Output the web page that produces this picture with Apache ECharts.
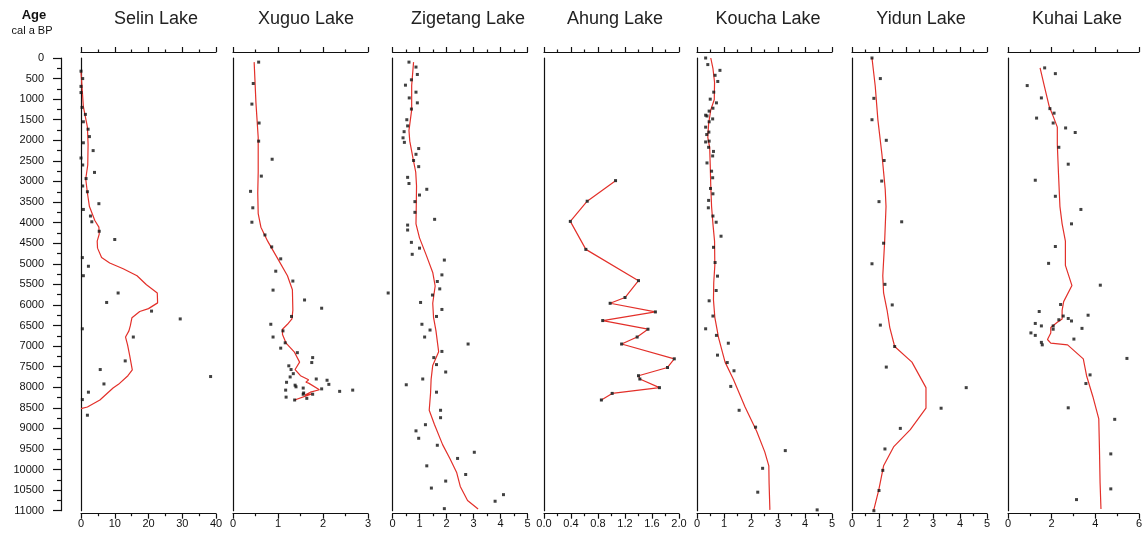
<!DOCTYPE html>
<html>
<head>
<meta charset="utf-8">
<title>Lake records</title>
<script src="https://cdn.jsdelivr.net/npm/echarts@6/dist/echarts.min.js"></script>
<style>
  html, body { margin: 0; padding: 0; background: #fff; }
  #chart { width: 1145px; height: 540px; }
</style>
</head>
<body>
<div id="chart"></div>
<script>
// every pair is [value, age in cal a BP]
const selinPts = [[0,320],[0.5,500],[0,690],[0,840],[0.3,1200],[1.3,1370],[0.7,1550],[2.1,1730],[2.5,1910],[0.7,2060],[3.6,2250],[0,2430],[0.5,2600],[4.0,2780],[1.5,2930],[0.5,3110],[1.9,3250],[5.3,3540],[0.7,3680],[2.8,3840],[3.2,3980],[5.4,4210],[10.0,4410],[0.4,4850],[2.2,5060],[0.7,5290],[11.0,5710],[7.6,5940],[20.9,6150],[29.4,6340],[0.4,6580],[15.5,6780],[13.1,7360],[5.7,7570],[38.4,7740],[6.8,7920],[2.2,8120],[0.4,8300],[1.9,8680]]
const selinFit = [[0,340],[0.7,1180],[1.9,1680],[2.1,2100],[2.0,2600],[1.7,2770],[1.4,2940],[1.9,3280],[2.5,3610],[4.1,3950],[5.3,4110],[5.4,4280],[4.8,4450],[4.9,4620],[6.1,4850],[8.5,4980],[12.5,5120],[16.6,5290],[19.4,5510],[22.6,5710],[22.7,5950],[20.0,6090],[17.4,6160],[15.1,6310],[14.6,6510],[14.2,6630],[13.2,6780],[13.8,6970],[14.4,7220],[15.2,7580],[13.9,7720],[11.1,7930],[9.5,8020],[5.6,8310],[1.9,8480],[0,8520]]

const xuguoPts = [[0.57,100],[0.45,620],[0.42,1120],[0.58,1580],[0.57,2020],[0.87,2460],[0.63,2870],[0.39,3240],[0.44,3640],[0.42,3990],[0.71,4300],[0.86,4590],[1.06,4880],[0.95,5180],[1.33,5420],[0.89,5640],[1.59,5880],[1.97,6080],[1.30,6280],[0.84,6470],[1.11,6630],[0.89,6780],[1.16,6920],[1.06,7050],[1.43,7160],[1.77,7280],[1.75,7400],[1.24,7480],[1.29,7570],[1.34,7670],[1.27,7750],[1.85,7800],[2.09,7830],[2.13,7930],[1.19,7880],[1.38,7950],[1.40,7990],[1.56,8020],[1.17,8070],[1.97,8040],[2.37,8100],[2.66,8070],[1.57,8140],[1.56,8170],[1.77,8170],[1.64,8270],[1.18,8240],[1.37,8310]]
const xuguoFit = [[0.47,100],[0.51,1090],[0.56,1930],[0.56,2770],[0.55,3280],[0.56,3780],[0.62,4110],[0.77,4450],[0.99,4870],[1.21,5290],[1.32,5630],[1.33,6130],[1.31,6340],[1.21,6470],[1.10,6590],[1.10,6720],[1.18,6930],[1.36,7140],[1.48,7390],[1.38,7570],[1.50,7720],[1.68,7820],[1.62,7880],[1.68,7900],[1.92,8060],[1.72,8120],[1.60,8190],[1.75,8160],[1.37,8310]]

const zigetangPts = [[0.61,100],[0.87,220],[0.92,400],[0.70,530],[0.48,660],[0.87,830],[0.62,970],[0.92,1090],[0.70,1240],[0.53,1500],[0.56,1650],[0.43,1790],[0.39,1940],[0.44,2050],[0.97,2200],[0.87,2340],[0.78,2490],[0.97,2640],[0.56,2900],[0.61,3050],[1.27,3190],[1.00,3330],[0.83,3490],[0.83,3750],[1.56,3920],[0.56,4060],[0.56,4180],[0.70,4480],[1.00,4620],[0.73,4770],[1.92,4910],[1.83,5270],[1.66,5430],[1.75,5610],[-0.16,5710],[1.48,5760],[1.04,5940],[1.83,6110],[1.63,6280],[1.09,6470],[1.39,6610],[1.19,6780],[2.80,6950],[1.83,7130],[1.53,7280],[1.63,7450],[1.97,7630],[1.12,7800],[0.51,7940],[1.63,8120],[1.78,8560],[1.78,8740],[1.22,8910],[0.87,9060],[0.97,9240],[1.66,9410],[3.03,9580],[2.41,9730],[1.27,9910],[2.71,10120],[1.97,10280],[1.44,10450],[4.11,10610],[3.80,10770],[1.92,10950]]
const zigetangFit = [[0.78,100],[0.71,670],[0.71,1260],[0.61,1760],[0.64,2020],[0.76,2440],[0.86,2770],[0.89,3110],[0.88,3610],[0.87,4030],[1.00,4370],[1.25,4790],[1.49,5210],[1.58,5540],[1.49,5960],[1.52,6300],[1.61,6630],[1.71,7140],[1.49,7470],[1.43,7810],[1.41,8140],[1.36,8560],[1.55,8900],[1.86,9400],[2.13,9740],[2.38,10080],[2.51,10410],[2.78,10750],[3.17,10960]]

const ahungPts = [[1.06,2980],[0.64,3480],[0.39,3970],[0.62,4650],[1.40,5410],[1.20,5820],[0.98,5960],[1.65,6170],[0.87,6380],[1.54,6590],[1.38,6780],[1.15,6950],[1.93,7310],[1.83,7520],[1.40,7720],[1.42,7800],[1.71,8010],[1.01,8150],[0.85,8310]]

const kouchaPts = [[0.32,0],[0.40,160],[0.85,300],[0.67,420],[0.77,570],[0.62,830],[0.49,1000],[0.72,1090],[0.59,1220],[0.45,1290],[0.32,1390],[0.37,1410],[0.58,1480],[0.45,1550],[0.32,1680],[0.44,1800],[0.36,1860],[0.32,2040],[0.45,2020],[0.43,2170],[0.61,2270],[0.58,2380],[0.37,2550],[0.54,2750],[0.58,2910],[0.50,3170],[0.59,3300],[0.43,3460],[0.42,3640],[0.59,3840],[0.71,3990],[0.89,4330],[0.61,4600],[0.67,4970],[0.76,5300],[0.71,5650],[0.45,5900],[0.59,6270],[0.32,6580],[0.72,6740],[1.16,6930],[0.76,7220],[1.12,7400],[1.37,7600],[1.25,7980],[1.56,8560],[2.17,8970],[3.27,9540],[2.43,9970],[2.25,10550],[4.45,10980]]
const kouchaFit = [[0.51,0],[0.59,250],[0.65,590],[0.64,1010],[0.51,1260],[0.43,1600],[0.40,1930],[0.47,2180],[0.49,2600],[0.51,3110],[0.54,3610],[0.59,4030],[0.65,4450],[0.66,5040],[0.62,5460],[0.61,5880],[0.66,6300],[0.80,6800],[1.04,7390],[1.35,7810],[1.78,8480],[2.21,9070],[2.51,9570],[2.66,9910],[2.67,10330],[2.70,10980]]

const yidunPts = [[0.74,0],[1.05,500],[0.81,980],[0.74,1500],[1.27,2000],[1.19,2490],[1.10,2990],[1.00,3490],[1.84,3980],[1.17,4500],[0.74,5000],[1.22,5500],[1.49,6000],[1.05,6490],[1.58,7010],[1.27,7510],[4.23,8010],[3.30,8510],[1.79,9000],[1.22,9500],[1.14,10020],[1.00,10510],[0.81,11000]]
const yidunFit = [[0.74,0],[0.86,680],[0.96,1510],[1.11,2350],[1.23,3190],[1.26,3610],[1.21,4450],[1.14,5290],[1.17,5710],[1.30,6130],[1.40,6550],[1.58,7010],[2.22,7390],[2.74,8010],[2.74,8510],[2.16,9030],[1.54,9450],[1.17,9910],[0.99,10500],[0.80,11000]]

const kuhaiPts = [[1.68,240],[2.17,380],[0.88,670],[1.53,970],[1.92,1230],[2.11,1340],[1.31,1460],[2.07,1580],[2.64,1700],[3.08,1810],[2.33,2170],[2.76,2580],[1.25,2970],[2.17,3360],[3.34,3680],[2.91,4030],[2.17,4580],[1.86,4990],[4.23,5520],[2.41,5990],[1.43,6160],[3.67,6250],[2.53,6270],[2.76,6330],[2.91,6390],[2.33,6360],[1.25,6450],[1.53,6510],[2.07,6510],[3.39,6570],[2.07,6590],[1.05,6680],[1.25,6740],[3.02,6830],[1.53,6910],[1.57,6970],[5.45,7300],[3.76,7700],[3.57,7910],[2.76,8500],[4.89,8780],[4.71,9620],[4.71,10470],[3.14,10730]]
const kuhaiFit = [[1.47,240],[1.66,670],[1.89,1180],[2.08,1430],[2.26,1680],[2.26,2100],[2.31,2770],[2.38,3610],[2.48,4030],[2.63,4450],[2.63,5040],[2.93,5530],[2.55,5920],[2.48,6130],[2.48,6340],[2.26,6420],[1.96,6550],[1.96,6680],[1.81,6840],[1.96,6930],[2.73,6970],[3.45,7310],[3.60,7720],[3.89,8230],[4.16,8770],[4.19,9490],[4.22,10330],[4.26,10960]]

const lakeNames = ['Selin Lake', 'Xuguo Lake', 'Zigetang Lake', 'Ahung Lake', 'Koucha Lake', 'Yidun Lake', 'Kuhai Lake']
const axisMax = [40, 3, 5, 2, 5, 5, 6]
const axisStep = [10, 1, 1, 0.4, 1, 1, 2]
const points = [selinPts, xuguoPts, zigetangPts, ahungPts, kouchaPts, yidunPts, kuhaiPts]
const fits = [selinFit, xuguoFit, zigetangFit, null, kouchaFit, yidunFit, kuhaiFit]
const ageMax = 11000
const ageStep = 500

// layout
const panelLeft = [81, 233, 392.5, 544, 697, 852, 1008]
const titleX = [156, 306, 468, 615, 768, 921, 1077]
const panelW = 135
const plotTop = 58
const plotH = 452.7
const ink = '#111'
const red = '#e3302a'
const font = '"Liberation Sans", Arial, sans-serif'

const chart = echarts.init(document.getElementById('chart'))

const grid = [{ left: 61, top: plotTop, width: 10, height: plotH }]
const xAxis = [{ gridIndex: 0, type: 'value', show: false }]
const yAxis = [{
  gridIndex: 0,
  type: 'value',
  min: 0,
  max: ageMax,
  interval: ageStep,
  inverse: true,
  axisLine: { show: true, lineStyle: { color: ink, width: 1.2 } },
  axisTick: { show: true, length: 8, lineStyle: { color: ink, width: 1.2 } },
  minorTick: { show: true, splitNumber: 2, length: 4, lineStyle: { color: ink, width: 1.2 } },
  axisLabel: { margin: 17, fontSize: 11, color: ink, fontFamily: font, formatter: v => String(v) },
  splitLine: { show: false }
}]
const series = []
const graphic = [
  { type: 'text', x: 34, y: 15, style: { text: 'Age', font: 'bold 13px ' + font, fill: ink, align: 'center', verticalAlign: 'middle' } },
  { type: 'text', x: 32, y: 30.5, style: { text: 'cal a BP', font: '11px ' + font, fill: ink, align: 'center', verticalAlign: 'middle' } }
]

lakeNames.forEach((name, i) => {
  const g = i + 1
  grid.push({ left: panelLeft[i], top: plotTop, width: panelW, height: plotH })

  const ruler = {
    gridIndex: g,
    type: 'value',
    min: 0,
    max: axisMax[i],
    interval: axisStep[i],
    axisLine: { show: true, onZero: false, lineStyle: { color: ink, width: 1.2 } },
    axisTick: { show: true, length: 5, lineStyle: { color: ink, width: 1.2 } },
    minorTick: { show: true, splitNumber: 2, length: 2.5, lineStyle: { color: ink, width: 1.2 } },
    splitLine: { show: false }
  }
  xAxis.push(Object.assign({}, ruler, {
    position: 'top',
    offset: 6,
    axisLabel: { show: false }
  }))
  xAxis.push(Object.assign({}, ruler, {
    position: 'bottom',
    offset: 3,
    axisLabel: {
      margin: 5,
      fontSize: 11,
      color: ink,
      fontFamily: font,
      formatter: v => (axisStep[i] < 1 ? v.toFixed(1) : String(v))
    }
  }))
  yAxis.push({
    gridIndex: g,
    type: 'value',
    min: 0,
    max: ageMax,
    inverse: true,
    axisLine: { show: true, onZero: false, lineStyle: { color: ink, width: 1.2 } },
    axisTick: { show: false },
    axisLabel: { show: false },
    splitLine: { show: false }
  })

  const xi = 2 + 2 * i
  if (fits[i]) {
    series.push({
      type: 'line',
      xAxisIndex: xi,
      yAxisIndex: g,
      data: fits[i],
      showSymbol: false,
      smooth: false,
      lineStyle: { color: red, width: 1.2 },
      z: 2
    })
    series.push({
      type: 'scatter',
      xAxisIndex: xi,
      yAxisIndex: g,
      data: points[i],
      symbol: 'rect',
      symbolSize: 3,
      clip: false,
      itemStyle: { color: ink },
      z: 3
    })
  } else {
    // Ahung: samples joined directly
    series.push({
      type: 'line',
      xAxisIndex: xi,
      yAxisIndex: g,
      data: points[i],
      showSymbol: true,
      symbol: 'rect',
      symbolSize: 3,
      itemStyle: { color: '#333' },
      lineStyle: { color: red, width: 1.2 },
      z: 2
    })
  }

  graphic.push({
    type: 'text',
    x: titleX[i],
    y: 19,
    style: { text: name, font: '18px ' + font, fill: '#222', align: 'center', verticalAlign: 'middle' }
  })
})

chart.setOption({
  backgroundColor: '#ffffff',
  animation: false,
  grid: grid,
  xAxis: xAxis,
  yAxis: yAxis,
  series: series,
  graphic: graphic
})
</script>
</body>
</html>
